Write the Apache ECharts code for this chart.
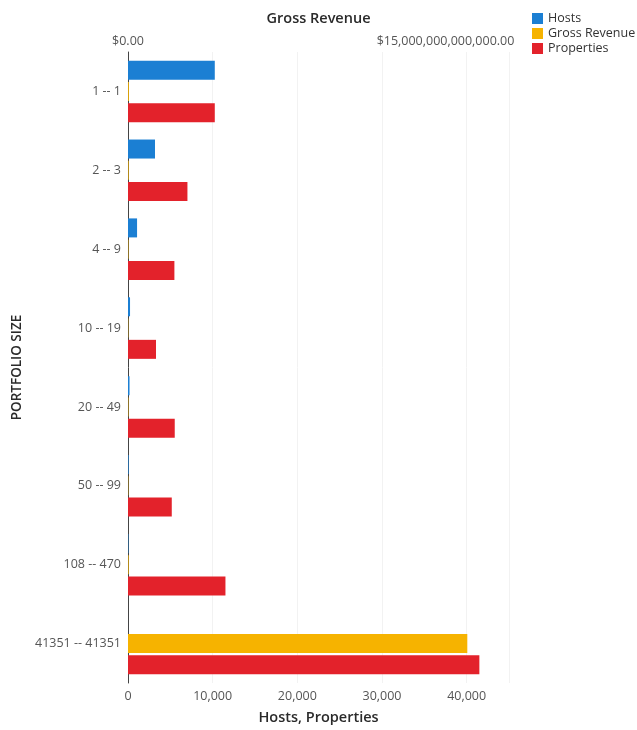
<!DOCTYPE html>
<html>
<head>
<meta charset="utf-8">
<script src="https://cdn.jsdelivr.net/npm/echarts@6/dist/echarts.min.js"></script>
<style>
  html, body { margin: 0; padding: 0; background: #fff; }
  #chart { width: 637px; height: 730px; }
</style>
</head>
<body>
<div id="chart"></div>
<script>
// portfolio size buckets, top to bottom
const categories = ['1 -- 1', '2 -- 3', '4 -- 9', '10 -- 19', '20 -- 49', '50 -- 99', '108 -- 470', '41351 -- 41351'];
const hosts = [10250, 3190, 1070, 240, 180, 75, 50, 1];
const properties = [10250, 7020, 5480, 3310, 5520, 5170, 11510, 41500];
const grossRevenue = [4e10, 3e10, 2e10, 1.5e10, 2e10, 1.5e10, 3e10, 16.03e12];

const font = 'Open Sans';
let myChart = echarts.init(document.getElementById('chart'));

function money(v) {
  return '$' + v.toLocaleString('en-US', { minimumFractionDigits: 2, maximumFractionDigits: 2 });
}

let option = {
  animation: false,
  textStyle: { fontFamily: font },
  legend: {
    orient: 'vertical',
    left: 527,
    top: 7,
    itemWidth: 11,
    itemHeight: 11,
    itemGap: 2,
    icon: 'rect',
    textStyle: { fontSize: 12.5, color: '#333', fontFamily: font },
    data: ['Hosts', 'Gross Revenue', 'Properties']
  },
  grid: { left: 128, right: 128, top: 52, bottom: 43 },
  xAxis: [
    {
      type: 'value',
      position: 'bottom',
      min: 0,
      max: 45000,
      interval: 10000,
      name: 'Hosts, Properties',
      nameLocation: 'middle',
      nameGap: 27,
      nameTextStyle: { fontSize: 14.5, color: '#2a2a2a', fontFamily: font, fontWeight: 600 },
      axisLine: { show: false },
      axisTick: { show: false },
      axisLabel: {
        fontSize: 12.5, color: '#555', margin: 7, showMaxLabel: false,
        formatter: v => v.toLocaleString('en-US')
      },
      splitLine: { show: true, lineStyle: { color: '#f2f2f2', width: 1 } }
    },
    {
      type: 'value',
      position: 'top',
      min: 0,
      max: 18e12,
      interval: 15e12,
      name: 'Gross Revenue',
      nameLocation: 'middle',
      nameGap: 26,
      nameTextStyle: { fontSize: 14.5, color: '#2a2a2a', fontFamily: font, fontWeight: 600 },
      axisLine: { show: false },
      axisTick: { show: false },
      axisLabel: { fontSize: 12.5, color: '#555', margin: 4, showMaxLabel: false, formatter: money },
      splitLine: { show: false }
    }
  ],
  yAxis: {
    type: 'category',
    inverse: true,
    data: categories,
    name: 'PORTFOLIO SIZE',
    nameLocation: 'middle',
    nameGap: 104,
    nameTextStyle: { fontSize: 13.5, color: '#2a2a2a', fontFamily: font, fontWeight: 600 },
    axisLine: { show: true, lineStyle: { color: '#444', width: 1 } },
    axisTick: { show: false },
    axisLabel: { fontSize: 12.5, color: '#555', margin: 7 }
  },
  series: [
    {
      name: 'Hosts',
      type: 'bar',
      xAxisIndex: 0,
      data: hosts,
      barWidth: 19,
      barGap: '12%',
      itemStyle: { color: '#1b7fd3' }
    },
    {
      name: 'Gross Revenue',
      type: 'bar',
      xAxisIndex: 1,
      data: grossRevenue,
      barWidth: 19,
      barGap: '12%',
      itemStyle: { color: '#f6b300' }
    },
    {
      name: 'Properties',
      type: 'bar',
      xAxisIndex: 0,
      data: properties,
      barWidth: 19,
      barGap: '12%',
      itemStyle: { color: '#e3222b' }
    }
  ]
};

option && myChart.setOption(option);
</script>
</body>
</html>
